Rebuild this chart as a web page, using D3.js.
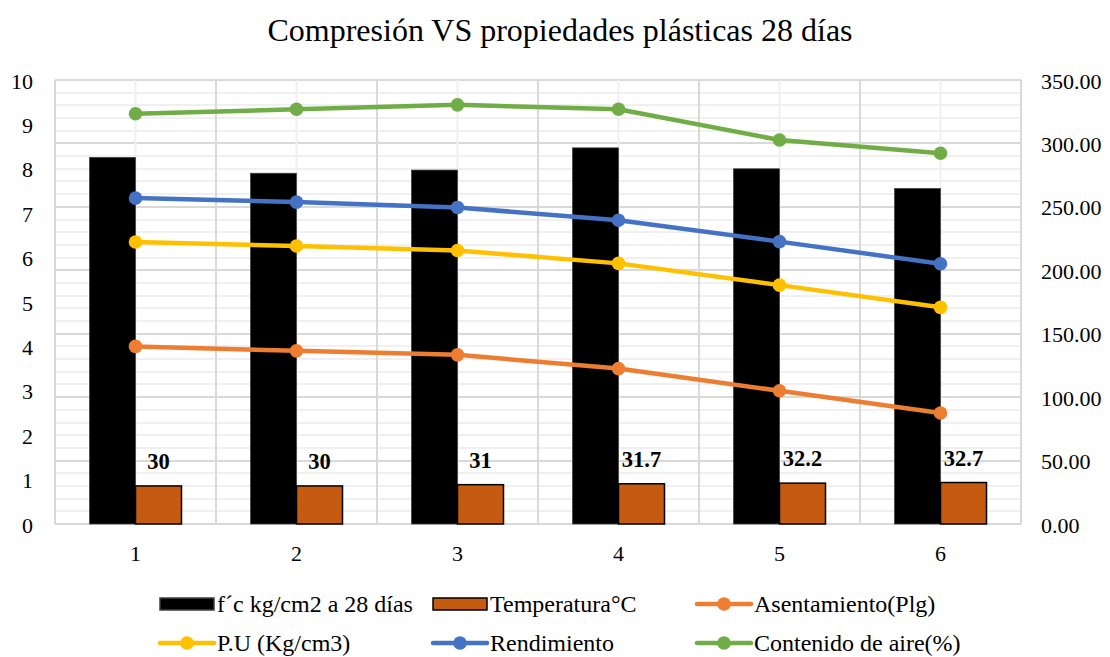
<!DOCTYPE html>
<html><head><meta charset="utf-8">
<script src="https://cdn.jsdelivr.net/npm/d3@7"></script>
<style>body{margin:0;background:#fff;} svg{display:block;}</style>
</head><body>
<svg id="chart" width="1110" height="657"></svg>
<script>
const categories = ["1","2","3","4","5","6"];
const fcValues = [289, 276.5, 279, 296.5, 280, 264.5];          // f´c kg/cm2 a 28 días (right axis)
const tempValues = [30, 30, 31, 31.7, 32.2, 32.7];              // Temperatura°C (right axis)
const asentamiento = [4.0, 3.9, 3.81, 3.5, 3.0, 2.5];           // left axis
const pu = [6.35, 6.26, 6.16, 5.87, 5.38, 4.88];                // left axis
const rendimiento = [7.34, 7.25, 7.13, 6.84, 6.36, 5.86];       // left axis
const aire = [9.24, 9.34, 9.44, 9.34, 8.65, 8.35];              // left axis
const leftTicks = [0,1,2,3,4,5,6,7,8,9,10];
const rightTicks = [0,50,100,150,200,250,300,350];
const title = "Compresión VS propiedades plásticas 28 días";

const FONT = "Liberation Serif";
const svg = d3.select("#chart");
const L = 55, R = 1021, T = 80, B = 524;

const x = d3.scaleBand().domain(categories).range([L, R]).padding(0);
const xs = d3.scaleBand().domain(["fc","temp"]).range([0, x.bandwidth()]).paddingInner(0).paddingOuter(0.75);
const yL = d3.scaleLinear().domain([0,10]).range([B, T]);
const yR = d3.scaleLinear().domain([0,350]).range([B, T]);

// gridlines
const g = svg.append("g");
const minor = d3.range(0, 351, 10);
g.selectAll("line.h").data(minor).join("line")
  .attr("x1", L).attr("x2", R)
  .attr("y1", d => Math.round(yR(d))).attr("y2", d => Math.round(yR(d)))
  .attr("stroke", d => d % 50 === 0 ? "#d9d9d9" : "#f0f0f0")
  .attr("stroke-width", 2);
g.selectAll("line.vc").data(categories).join("line")
  .attr("x1", d => x(d) + x.bandwidth()/2).attr("x2", d => x(d) + x.bandwidth()/2)
  .attr("y1", T).attr("y2", B).attr("stroke", "#f0f0f0").attr("stroke-width", 2);
const bounds = categories.map(d => x(d)).concat([R]);
g.selectAll("line.vb").data(bounds).join("line")
  .attr("x1", d => d).attr("x2", d => d)
  .attr("y1", T).attr("y2", B).attr("stroke", "#d9d9d9").attr("stroke-width", 2);
g.append("line").attr("x1", L).attr("x2", R).attr("y1", B).attr("y2", B).attr("stroke", "#d9d9d9").attr("stroke-width", 2);

// bars
svg.append("g").selectAll("rect").data(fcValues).join("rect")
  .attr("x", (d,i) => x(categories[i]) + xs("fc"))
  .attr("width", xs.bandwidth())
  .attr("y", d => yR(d)).attr("height", d => B - yR(d))
  .attr("fill", "#000").attr("stroke", "#404040").attr("stroke-width", 0.75);
svg.append("g").selectAll("rect").data(tempValues).join("rect")
  .attr("x", (d,i) => x(categories[i]) + xs("temp"))
  .attr("width", xs.bandwidth())
  .attr("y", d => yR(d)).attr("height", d => B - yR(d))
  .attr("fill", "#c55a11").attr("stroke", "#000").attr("stroke-width", 1.5);
svg.append("g").selectAll("text").data(tempValues).join("text")
  .attr("font-family", FONT)
  .attr("x", (d,i) => x(categories[i]) + xs("temp") + xs.bandwidth()/2)
  .attr("y", d => yR(d) - 17)
  .attr("text-anchor", "middle").attr("font-weight", "bold").attr("font-size", 22.5)
  .text(d => d);

// lines
const series = [
  {name:"Asentamiento(Plg)", values: asentamiento, color:"#ed7d31"},
  {name:"P.U (Kg/cm3)", values: pu, color:"#ffc000"},
  {name:"Rendimiento", values: rendimiento, color:"#4472c4"},
  {name:"Contenido de aire(%)", values: aire, color:"#70ad47"}
];
const cx = i => x(categories[i]) + x.bandwidth()/2;
const line = d3.line().x((d,i) => cx(i)).y(d => yL(d));
series.forEach(s => {
  const gg = svg.append("g");
  gg.append("path").attr("d", line(s.values)).attr("fill", "none")
    .attr("stroke", s.color).attr("stroke-width", 4.5).attr("stroke-linejoin", "round");
  gg.selectAll("circle").data(s.values).join("circle")
    .attr("cx", (d,i) => cx(i)).attr("cy", d => yL(d)).attr("r", 6.8).attr("fill", s.color);
});

// axes labels
svg.append("g").selectAll("text").data(leftTicks).join("text")
  .attr("font-family", FONT)
  .attr("x", 33).attr("y", d => yL(d) + 8.5)
  .attr("text-anchor", "end").attr("font-size", 22).attr("fill", "#000").text(d => d);
svg.append("g").selectAll("text").data(rightTicks).join("text")
  .attr("font-family", FONT)
  .attr("x", 1041).attr("y", d => yR(d) + 8.5)
  .attr("text-anchor", "start").attr("font-size", 22).attr("fill", "#000").text(d => d.toFixed(2));
svg.append("g").selectAll("text").data(categories).join("text")
  .attr("font-family", FONT)
  .attr("x", d => x(d) + x.bandwidth()/2).attr("y", 561)
  .attr("text-anchor", "middle").attr("font-size", 22).text(d => d);

// title
svg.append("text").attr("font-family", FONT).attr("x", 560).attr("y", 41)
  .attr("text-anchor", "middle").attr("font-size", 32).text(title);

// legend
const legend = [
  {name:"f´c kg/cm2 a 28 días", type:"bar", color:"#000", stroke:"#404040", x:160, y:604},
  {name:"Temperatura°C", type:"bar", color:"#c55a11", stroke:"#000", x:433, y:604},
  {name:"Asentamiento(Plg)", type:"line", color:"#ed7d31", x:697, y:604},
  {name:"P.U (Kg/cm3)", type:"line", color:"#ffc000", x:160, y:643},
  {name:"Rendimiento", type:"line", color:"#4472c4", x:433, y:643},
  {name:"Contenido de aire(%)", type:"line", color:"#70ad47", x:697, y:643}
];
const lg = svg.append("g");
legend.forEach(it => {
  if (it.type === "bar") {
    lg.append("rect").attr("x", it.x).attr("y", it.y - 6).attr("width", 54).attr("height", 12)
      .attr("fill", it.color).attr("stroke", it.stroke).attr("stroke-width", 1.5);
  } else {
    lg.append("line").attr("x1", it.x).attr("x2", it.x + 54).attr("y1", it.y).attr("y2", it.y)
      .attr("stroke", it.color).attr("stroke-width", 4.5).attr("stroke-linecap", "round");
    lg.append("circle").attr("cx", it.x + 27).attr("cy", it.y).attr("r", 6.8).attr("fill", it.color);
  }
  lg.append("text").attr("font-family", FONT).attr("x", it.x + 57).attr("y", it.y + 8)
    .attr("font-size", 24).text(it.name);
});
</script>
</body></html>
